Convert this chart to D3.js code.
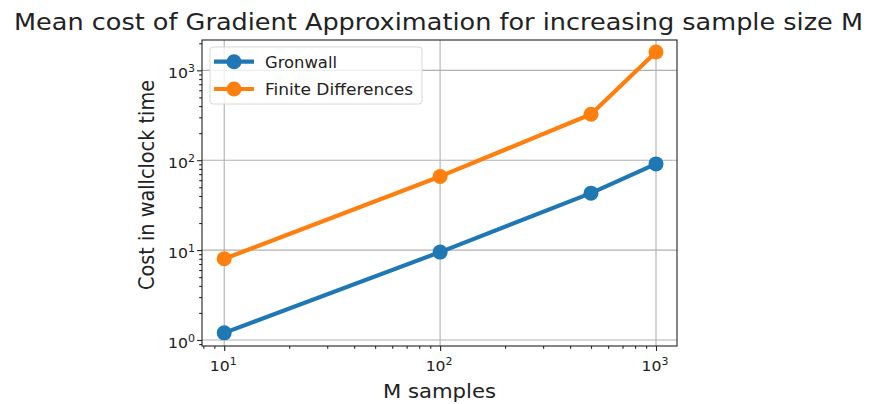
<!DOCTYPE html>
<html>
<head>
<meta charset="utf-8">
<script src="https://cdn.jsdelivr.net/npm/d3@7"></script>
<style>
  html, body { margin: 0; padding: 0; background: #fff; }
  svg { display: block; font-family: "DejaVu Sans", sans-serif; }
</style>
</head>
<body>
<svg id="chart" width="870" height="404"></svg>
<script>
// Sample sizes and mean wallclock cost per method
const sampleSizes = [10, 100, 500, 1000];
const gronwallCost = [1.2, 9.5, 43, 91];
const finiteDiffCost = [8.0, 66, 325, 1600];
const seriesNames = ["Gronwall", "Finite Differences"];
const seriesColors = ["#1f77b4", "#ff7f0e"];
const xTickValues = [10, 100, 1000];
const yTickValues = [1, 10, 100, 1000];

const svg = d3.select("#chart");
const plot = { left: 202, right: 677, top: 40, bottom: 346 };
const ink = "#222";

const x = d3.scaleLog().domain([7.89, 1251]).range([plot.left, plot.right]);
const y = d3.scaleLog().domain([0.857, 2175]).range([plot.bottom, plot.top]);

// Minor tick positions (2..9 in each decade) inside a log domain
function minorTicks(domain) {
  const out = [];
  const lo = Math.floor(Math.log10(domain[0])), hi = Math.ceil(Math.log10(domain[1]));
  for (let e = lo; e <= hi; e++) {
    for (let m = 2; m <= 9; m++) {
      const v = m * Math.pow(10, e);
      if (v >= domain[0] && v <= domain[1]) out.push(v);
    }
  }
  return out;
}

// Grid
const grid = svg.append("g").attr("stroke", "#b0b0b0").attr("stroke-width", 1.1);
grid.selectAll("line.gx").data(xTickValues).enter().append("line")
  .attr("x1", d => x(d)).attr("x2", d => x(d))
  .attr("y1", plot.top).attr("y2", plot.bottom);
grid.selectAll("line.gy").data(yTickValues).enter().append("line")
  .attr("x1", plot.left).attr("x2", plot.right)
  .attr("y1", d => y(d)).attr("y2", d => y(d));

// Axes: major and minor ticks
svg.append("g").attr("transform", `translate(0,${plot.bottom})`)
  .call(d3.axisBottom(x).tickValues(xTickValues).tickSize(4.9).tickFormat(() => ""));
svg.append("g").attr("transform", `translate(${plot.left},0)`)
  .call(d3.axisLeft(y).tickValues(yTickValues).tickSize(4.9).tickFormat(() => ""));
svg.append("g").attr("transform", `translate(0,${plot.bottom})`)
  .call(d3.axisBottom(x).tickValues(minorTicks(x.domain())).tickSize(2.8).tickFormat(() => ""));
svg.append("g").attr("transform", `translate(${plot.left},0)`)
  .call(d3.axisLeft(y).tickValues(minorTicks(y.domain())).tickSize(2.8).tickFormat(() => ""));
svg.selectAll(".domain").remove();
svg.selectAll(".tick line").attr("stroke", ink).attr("stroke-width", 1.1);

// Tick labels written as 10 with a superscript exponent
function addPowLabels(values, px, py, anchor) {
  values.forEach(v => {
    const t = svg.append("text")
      .attr("transform", `translate(${px(v)},${py(v)}) scale(1.12,1)`)
      .attr("text-anchor", anchor)
      .attr("font-size", 14).attr("fill", ink);
    t.append("tspan").text("10");
    t.append("tspan").attr("dy", -6).attr("font-size", 9.8)
      .text(Math.round(Math.log10(v)));
  });
}
addPowLabels(xTickValues, v => x(v) - 1, () => plot.bottom + 25, "middle");
addPowLabels(yTickValues, () => plot.left - 7, v => y(v) + 8, "end");

// Frame
svg.append("rect")
  .attr("x", plot.left).attr("y", plot.top)
  .attr("width", plot.right - plot.left).attr("height", plot.bottom - plot.top)
  .attr("fill", "none").attr("stroke", ink).attr("stroke-width", 1.1);

// Series lines and markers
const series = [gronwallCost, finiteDiffCost];
const line = d3.line().x((d, i) => x(sampleSizes[i])).y(d => y(d));
series.forEach((vals, k) => {
  const g = svg.append("g");
  g.append("path").datum(vals).attr("d", line)
    .attr("fill", "none").attr("stroke", seriesColors[k]).attr("stroke-width", 4.2)
    .attr("stroke-linejoin", "round");
  g.selectAll("circle").data(vals).enter().append("circle")
    .attr("cx", (d, i) => x(sampleSizes[i])).attr("cy", d => y(d))
    .attr("r", 7.5).attr("fill", seriesColors[k]);
});

// Text helper with a fixed drawn length
function label(xp, yp, str, size, len, anchor) {
  return svg.append("text").attr("x", xp).attr("y", yp)
    .attr("text-anchor", anchor || "start")
    .attr("font-size", size).attr("fill", ink)
    .attr("textLength", len).attr("lengthAdjust", "spacingAndGlyphs")
    .text(str);
}

// Legend
const legendRowsY = [61.7, 89];
const legendTextLen = [72, 148];
svg.append("rect").attr("x", 210).attr("y", 47).attr("width", 212).attr("height", 57)
  .attr("rx", 3).attr("fill", "#fff").attr("fill-opacity", 0.8)
  .attr("stroke", "#d8d8d8").attr("stroke-width", 1);
seriesNames.forEach((name, k) => {
  const cy = legendRowsY[k];
  svg.append("line").attr("x1", 214).attr("x2", 254).attr("y1", cy).attr("y2", cy)
    .attr("stroke", seriesColors[k]).attr("stroke-width", 4.2);
  svg.append("circle").attr("cx", 234).attr("cy", cy).attr("r", 7.5).attr("fill", seriesColors[k]);
  label(265, cy + 5.8, name, 15.5, legendTextLen[k]);
});

// Title and axis labels
label(438.5, 29.5, "Mean cost of Gradient Approximation for increasing sample size M", 22.5, 849, "middle");
label(439.5, 398.3, "M samples", 20, 113, "middle");
svg.append("text").attr("transform", `translate(153.5,185) scale(1.12,1) rotate(-90)`)
  .attr("text-anchor", "middle").attr("font-size", 19.5).attr("fill", ink)
  .attr("textLength", 210).attr("lengthAdjust", "spacingAndGlyphs")
  .text("Cost in wallclock time");
</script>
</body>
</html>
